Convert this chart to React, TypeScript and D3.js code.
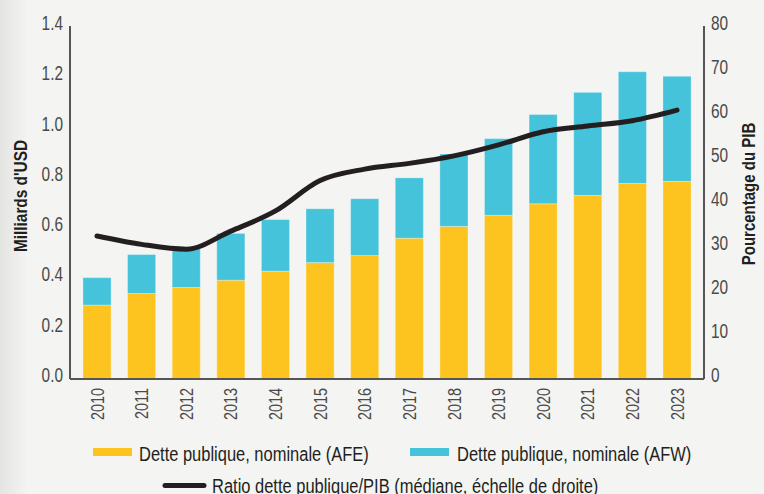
import React from "react";
import * as d3 from "d3";

const years = ["2010","2011","2012","2013","2014","2015","2016","2017","2018","2019","2020","2021","2022","2023"];
const afe = [0.294,0.34,0.364,0.393,0.429,0.463,0.491,0.56,0.607,0.651,0.697,0.73,0.778,0.786];
const afw = [0.109,0.155,0.157,0.186,0.205,0.214,0.226,0.24,0.288,0.305,0.355,0.41,0.444,0.418];
const ratio = [32.5,30.6,29.5,33.6,38.2,45.1,47.7,49.0,50.7,53.2,56.2,57.5,58.7,61.1];
const leftTicks = [0,0.2,0.4,0.6,0.8,1.0,1.2,1.4];
const rightTicks = [0,10,20,30,40,50,60,70,80];

const W = 764, H = 494;
const FONT = "'Liberation Sans', Arial, sans-serif";
const YELLOW = "#fdc420";
const CYAN = "#45c3db";
const INK = "#231f20";
const GREY = "#4a4a4a";
const SX = 0.77;

export default function App() {
  const x0 = 70, x1 = 704, yTop = 27, yBot = 379;
  const x = d3.scaleBand<string>().domain(years).range([x0, x1]).paddingInner(0.37).paddingOuter(0.29);
  const yL = d3.scaleLinear().domain([0, 1.4]).range([yBot, yTop]);
  const yR = d3.scaleLinear().domain([0, 80]).range([yBot, yTop]);
  const line = d3.line<number>()
    .x((_, i) => (x(years[i]) as number) + x.bandwidth() / 2)
    .y((d) => yR(d))
    .curve(d3.curveMonotoneX);

  return (
    <svg width={W} height={H} style={{ position: "absolute", left: 0, top: 0, display: "block" }} fontFamily={FONT}>
      <defs>
        <linearGradient id="bgL" x1="0" x2="1" y1="0" y2="0">
          <stop offset="0" stopColor="#e4e4e2" />
          <stop offset="1" stopColor="#f4f4f2" />
        </linearGradient>
      </defs>
      <rect x={0} y={0} width={W} height={H} fill="#f4f4f2" />
      <rect x={0} y={0} width={28} height={H} fill="url(#bgL)" />

      {years.map((yr, i) => {
        const bx = x(yr) as number;
        const bw = x.bandwidth();
        return (
          <g key={yr}>
            <rect x={bx} y={yL(afe[i])} width={bw} height={yL(0) - yL(afe[i])} fill={YELLOW} stroke="rgba(255,255,255,0.3)" strokeWidth={1} />
            <rect x={bx} y={yL(afe[i] + afw[i])} width={bw} height={yL(afe[i]) - yL(afe[i] + afw[i])} fill={CYAN} stroke="rgba(255,255,255,0.3)" strokeWidth={1} />
          </g>
        );
      })}

      <path d={line(ratio) || ""} fill="none" stroke={INK} strokeWidth={5} strokeLinecap="round" strokeLinejoin="round" />

      {/* axes */}
      <line x1={x0} x2={x0} y1={yTop - 1} y2={yBot} stroke={INK} strokeWidth={1.5} />
      <line x1={x1} x2={x1} y1={yTop - 1} y2={yBot} stroke={INK} strokeWidth={1.5} />
      <line x1={x0} x2={x1} y1={yBot} y2={yBot} stroke="#555" strokeWidth={2} />

      {leftTicks.map((t) => (
        <text key={"l" + t} transform={`translate(63,${yL(t) - 4}) scale(${SX},1)`} dy="0.35em" textAnchor="end" fontSize={20} fill={GREY}>
          {t.toFixed(1)}
        </text>
      ))}
      {rightTicks.map((t) => (
        <text key={"r" + t} transform={`translate(711,${yR(t) - 4}) scale(${SX},1)`} dy="0.35em" textAnchor="start" fontSize={20} fill={GREY}>
          {t}
        </text>
      ))}
      {years.map((yr) => (
        <text key={"x" + yr} transform={`translate(${(x(yr) as number) + x.bandwidth() / 2},388) rotate(-90) scale(0.76,1)`} dy="0.35em" textAnchor="end" fontSize={19} fill={GREY}>
          {yr}
        </text>
      ))}

      <text transform={`translate(20,196) rotate(-90) scale(0.81,1)`} dy="0.35em" textAnchor="middle" fontSize={19} fontWeight="bold" fill={INK}>
        Milliards d'USD
      </text>
      <text transform={`translate(748,194) rotate(-90) scale(0.79,1)`} dy="0.35em" textAnchor="middle" fontSize={19} fontWeight="bold" fill={INK}>
        Pourcentage du PIB
      </text>

      {/* legend */}
      <rect x={93} y={448} width={39} height={8} fill={YELLOW} />
      <text transform={`translate(139,461) scale(0.785,1)`} fontSize={21} fill={INK}>Dette publique, nominale (AFE)</text>
      <rect x={410} y={448} width={39} height={8} fill={CYAN} />
      <text transform={`translate(457,461) scale(0.785,1)`} fontSize={21} fill={INK}>Dette publique, nominale (AFW)</text>
      <line x1={165} x2={204} y1={485.5} y2={485.5} stroke={INK} strokeWidth={5} strokeLinecap="round" />
      <text transform={`translate(212,493) scale(0.785,1)`} fontSize={21} fill={INK}>Ratio dette publique/PIB (médiane, échelle de droite)</text>
    </svg>
  );
}
